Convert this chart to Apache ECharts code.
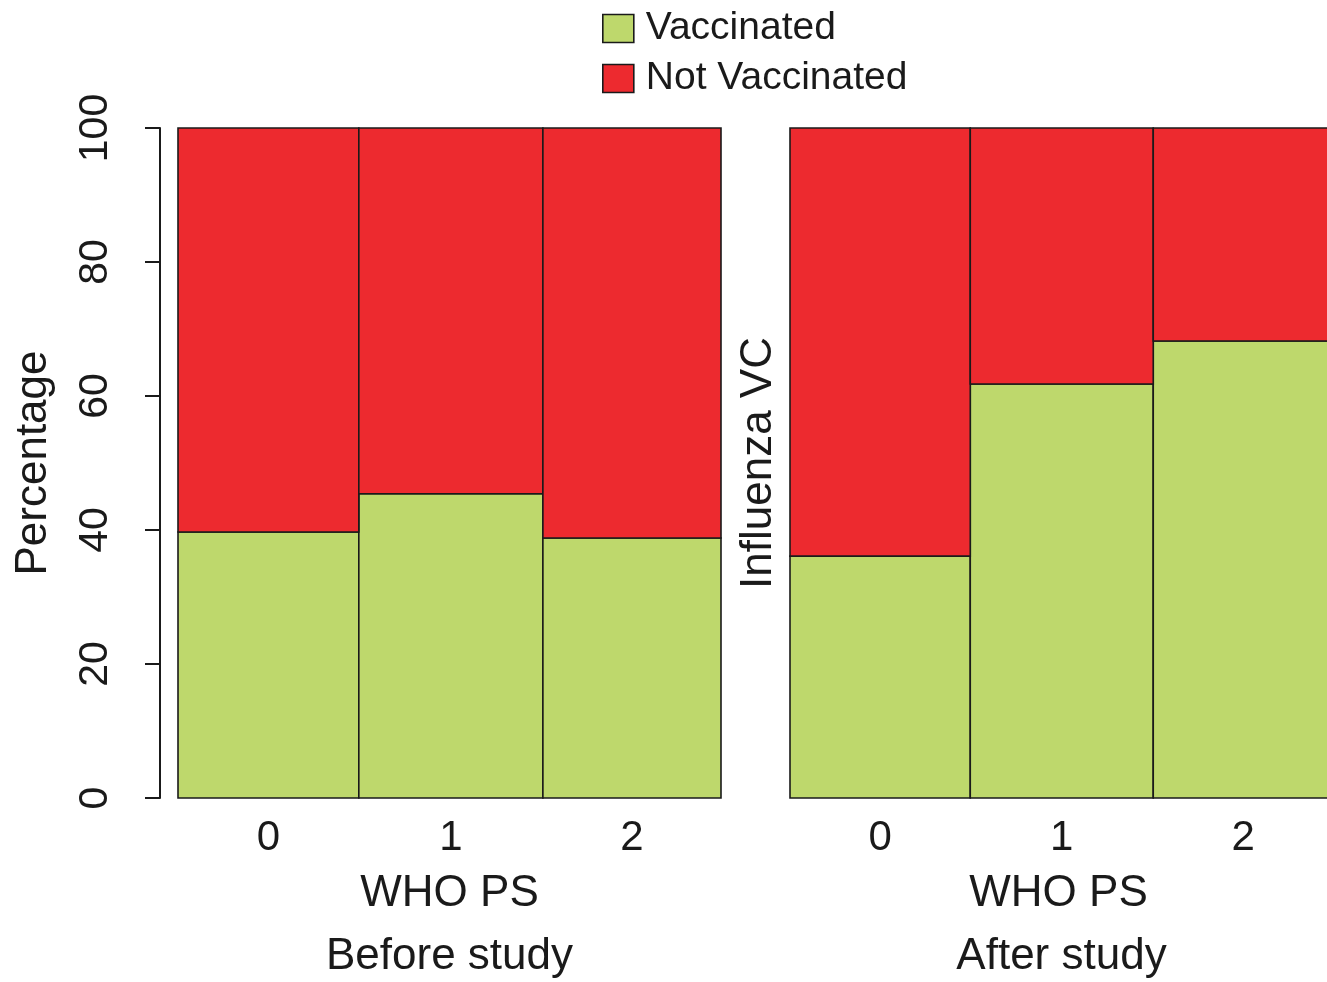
<!DOCTYPE html>
<html>
<head>
<meta charset="utf-8">
<script src="https://cdn.jsdelivr.net/npm/echarts@6/dist/echarts.min.js"></script>
<style>html,body{margin:0;padding:0;background:#fff}#c{width:1327px;height:982px}</style>
</head>
<body>
<div id="c"></div>
<script>
// ---- data ----
const categories = ['0', '1', '2'];
const seriesNames = ['Vaccinated', 'Not Vaccinated'];
const panelTitles = ['Before study', 'After study'];
const yTicks = [0, 20, 40, 60, 80, 100];
// share of patients in each WHO PS group (bar widths, %)
const beforeWidths = [33.3, 33.9, 32.8];
const afterWidths = [33.2, 33.7, 33.1];
// percentage vaccinated in each group
const beforeVaccinated = [39.7, 45.4, 38.8];
const afterVaccinated = [36.1, 61.8, 68.2];

const GREEN = '#BED86C', RED = '#ED2A2F', INK = '#1a1a1a';
const FONT = '"Liberation Sans", Arial, sans-serif';

function spans(widths) {
  const out = []; let acc = 0;
  widths.forEach(w => { out.push([acc, acc + w]); acc += w; });
  return out;
}
function centers(widths) { return spans(widths).map(s => (s[0] + s[1]) / 2); }

function rectItem(params, api) {
  const p0 = api.coord([api.value(0), api.value(3)]);
  const p1 = api.coord([api.value(1), api.value(2)]);
  return {
    type: 'rect',
    shape: { x: p0[0], y: p0[1], width: p1[0] - p0[0], height: p1[1] - p0[1] },
    style: api.style({ stroke: INK, lineWidth: 1.6 })
  };
}

function panelSeries(widths, vacc, idx) {
  const sp = spans(widths);
  const vData = sp.map((s, i) => [s[0], s[1], 0, vacc[i]]);
  const nData = sp.map((s, i) => [s[0], s[1], vacc[i], 100]);
  return [
    { name: seriesNames[0], type: 'custom', xAxisIndex: idx, yAxisIndex: idx, renderItem: rectItem,
      itemStyle: { color: GREEN }, encode: { x: [0, 1], y: [2, 3] }, data: vData, clip: false },
    { name: seriesNames[1], type: 'custom', xAxisIndex: idx, yAxisIndex: idx, renderItem: rectItem,
      itemStyle: { color: RED }, encode: { x: [0, 1], y: [2, 3] }, data: nData, clip: false }
  ];
}

function xAxisFor(widths, idx, xmax) {
  const cs = centers(widths);
  return {
    type: 'value', gridIndex: idx, min: 0, max: xmax,
    axisLine: { show: false, onZero: false }, axisTick: { show: false }, splitLine: { show: false },
    axisLabel: {
      customValues: cs, margin: 19, fontSize: 42, fontFamily: FONT, color: INK,
      formatter: v => { let b = 0; cs.forEach((c, i) => { if (Math.abs(c - v) < Math.abs(cs[b] - v)) b = i; }); return categories[b]; }
    },
    name: 'WHO PS', nameLocation: 'middle', nameGap: 74,
    nameTextStyle: { fontSize: 44, fontFamily: FONT, color: INK }
  };
}

const chart = echarts.init(document.getElementById('c'));
chart.setOption({
  animation: false,
  backgroundColor: '#fff',
  legend: {
    orient: 'vertical', left: 597, top: 4, icon: 'rect',
    itemWidth: 31, itemHeight: 28, itemGap: 11,
    data: seriesNames,
    itemStyle: { borderColor: INK, borderWidth: 1.6 },
    textStyle: { fontSize: 39, fontFamily: FONT, color: INK, padding: [0, 0, 0, 7] }
  },
  title: [
    { text: panelTitles[0], left: 449.5, top: 935, textAlign: 'center', padding: 0,
      textStyle: { fontSize: 44, fontWeight: 'normal', fontFamily: FONT, color: INK } },
    { text: panelTitles[1], left: 1061.5, top: 935, textAlign: 'center', padding: 0,
      textStyle: { fontSize: 44, fontWeight: 'normal', fontFamily: FONT, color: INK } }
  ],
  grid: [
    { left: 178, top: 128, width: 543, height: 670 },
    { left: 790, top: 128, right: 0, height: 670 }
  ],
  xAxis: [xAxisFor(beforeWidths, 0, 100), xAxisFor(afterWidths, 1, 98.9)],
  yAxis: [
    { type: 'value', gridIndex: 0, min: 0, max: 100, interval: 20, offset: 18,
      axisLine: { show: true, onZero: false, lineStyle: { color: INK, width: 2 } },
      axisTick: { show: true, length: 15, lineStyle: { color: INK, width: 2 } },
      splitLine: { show: false },
      axisLabel: { rotate: 90, margin: 44, fontSize: 41, fontFamily: FONT, color: INK,
        customValues: yTicks },
      name: 'Percentage', nameLocation: 'middle', nameRotate: 90, nameGap: 104,
      nameTextStyle: { fontSize: 44, fontFamily: FONT, color: INK } },
    { type: 'value', gridIndex: 1, min: 0, max: 100, interval: 20,
      axisLine: { show: false, onZero: false }, axisTick: { show: false }, axisLabel: { show: false }, splitLine: { show: false },
      name: 'Influenza VC', nameLocation: 'middle', nameRotate: 90, nameGap: 9,
      nameTextStyle: { fontSize: 44, fontFamily: FONT, color: INK } }
  ],
  series: [...panelSeries(beforeWidths, beforeVaccinated, 0), ...panelSeries(afterWidths, afterVaccinated, 1)]
});
</script>
</body>
</html>
